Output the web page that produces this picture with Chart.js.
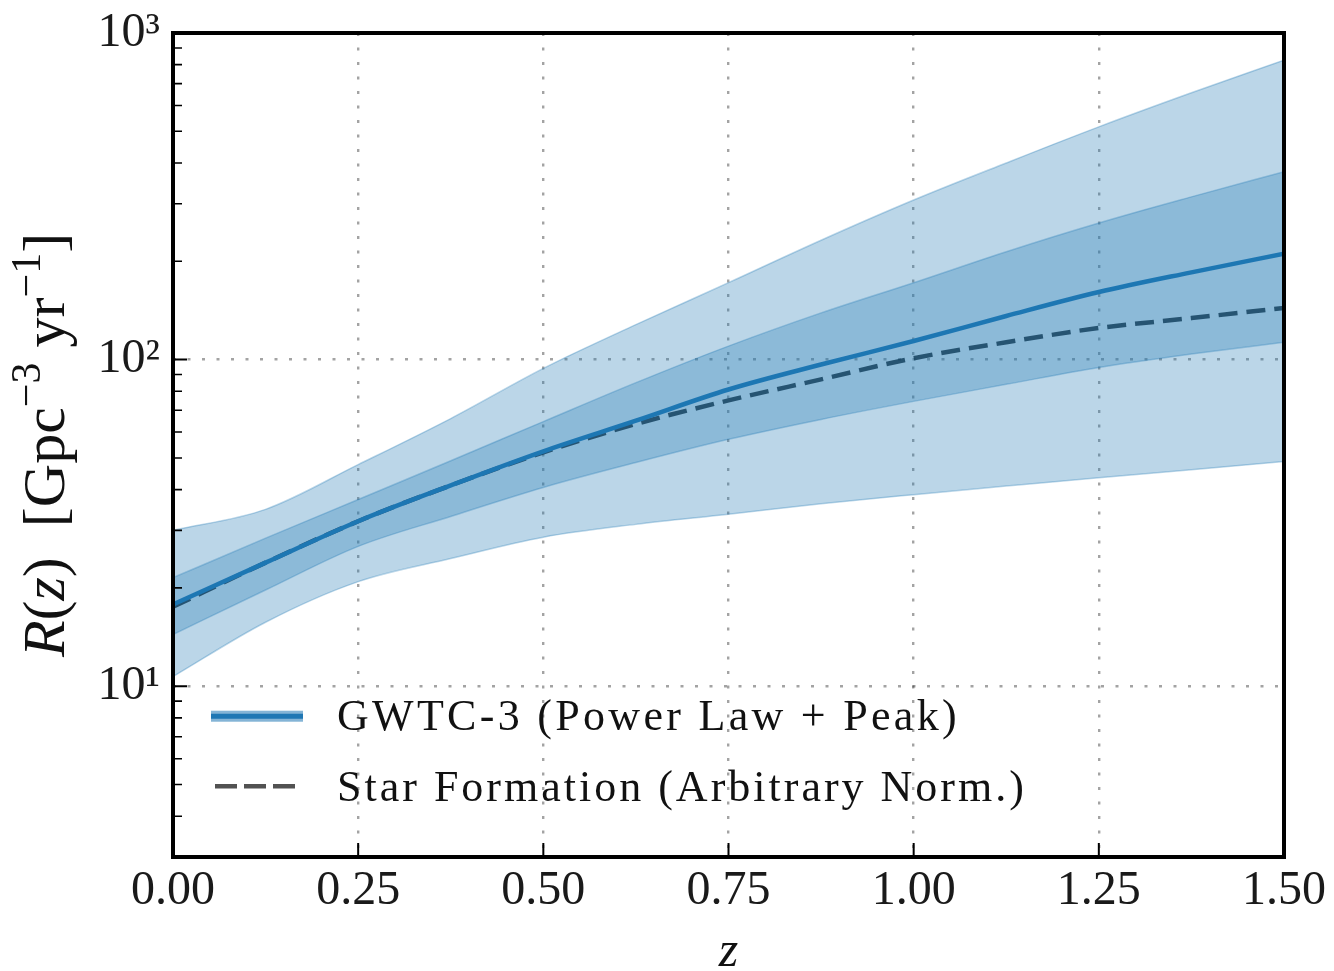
<!DOCTYPE html>
<html><head><meta charset="utf-8">
<script src="https://cdn.jsdelivr.net/npm/chart.js@4.4.1/dist/chart.umd.min.js"></script>
<style>html,body{margin:0;padding:0;background:#fff;}canvas{display:block;}</style>
</head><body>
<canvas id="c" width="1334" height="971"></canvas>
<script>
// ---- data ----
const redshift   = [0, 0.125, 0.25, 0.375, 0.5, 0.625, 0.75, 0.875, 1.0, 1.125, 1.25, 1.375, 1.5];
const outerUpper = [30, 34.8, 47.7, 66, 94, 128, 172, 232, 308, 400, 516, 656, 826];
const innerUpper = [21.5, 28.4, 37.3, 49, 64.6, 85, 110, 139, 172, 214, 262, 315, 376];
const medianRate = [17.8, 23.9, 32, 41.2, 52.4, 65, 81, 96.6, 114, 136, 161, 185, 211];
const innerLower = [14.4, 19.7, 26.8, 33.1, 40.6, 48.4, 57, 65.6, 74.5, 84, 94.6, 104, 113];
const outerLower = [10.7, 15.7, 20.9, 24.6, 28.6, 31.3, 33.6, 36.2, 38.6, 41, 43.5, 46, 48.8];
const starFormation = [17.5, 23.9, 32, 41.2, 52, 63.5, 75, 87, 101, 113, 125, 134, 144];

const xTickValues = [0, 0.25, 0.5, 0.75, 1.0, 1.25, 1.5];
const xTickLabels = ['0.00', '0.25', '0.50', '0.75', '1.00', '1.25', '1.50'];
const yMajorValues = [10, 100, 1000];
const yMajorLabels = ['10\u00B9', '10\u00B2', '10\u00B3'];
const yMin = 3, yMax = 1000;
const legendLabels = ['GWTC-3 (Power Law + Peak)', 'Star Formation (Arbitrary Norm.)'];
const xTitle = 'z';

// ---- helpers ----
const pts = arr => redshift.map((z, i) => ({x: z, y: arr[i]}));
const yAllTicks = [];
for (let d = 0; d <= 3; d++) for (let k = 1; k <= 9; k++) {
  const v = k * Math.pow(10, d);
  if (v >= yMin && v <= yMax) yAllTicks.push(v);
}
const isMajor = v => yMajorValues.some(m => Math.abs(m - v) < 1e-9);
const SERIF = '"Liberation Serif", "DejaVu Serif", serif';
const bandFill = 'rgba(31,119,180,0.3)';
const gridColor = 'rgba(0,0,0,0.36)';

const decorPlugin = {
  id: 'decor',
  afterDatasetsDraw(chart) {
    const {ctx, chartArea: a, scales: {x, y}} = chart;
    ctx.save();
    ctx.strokeStyle = '#000';
    // major ticks (inward)
    ctx.lineWidth = 2;
    ctx.beginPath();
    xTickValues.forEach(v => { const px = x.getPixelForValue(v); ctx.moveTo(px, a.bottom); ctx.lineTo(px, a.bottom - 14); });
    yMajorValues.forEach(v => { const py = y.getPixelForValue(v); ctx.moveTo(a.left, py); ctx.lineTo(a.left + 14, py); });
    ctx.stroke();
    // minor ticks
    ctx.lineWidth = 1.6;
    ctx.beginPath();
    yAllTicks.filter(v => !isMajor(v)).forEach(v => { const py = y.getPixelForValue(v); ctx.moveTo(a.left, py); ctx.lineTo(a.left + 9, py); });
    ctx.stroke();
    // frame
    ctx.lineWidth = 4;
    ctx.strokeRect(a.left, a.top, a.right - a.left, a.bottom - a.top);

    // legend
    const lx0 = a.left + 38, lx1 = a.left + 130;
    const ly1 = y.getPixelForValue(10) + 30, ly2 = ly1 + 70;
    ctx.fillStyle = 'rgba(31,119,180,0.55)';
    ctx.fillRect(lx0, ly1 - 5.5, lx1 - lx0, 11);
    ctx.strokeStyle = '#1f77b4'; ctx.lineWidth = 5;
    ctx.beginPath(); ctx.moveTo(lx0, ly1); ctx.lineTo(lx1, ly1); ctx.stroke();
    ctx.strokeStyle = 'rgba(0,0,0,0.68)'; ctx.lineWidth = 4.5;
    ctx.setLineDash([22, 7]);
    ctx.beginPath(); ctx.moveTo(lx0 + 4, ly2); ctx.lineTo(lx1 - 8, ly2); ctx.stroke();
    ctx.setLineDash([]);
    ctx.fillStyle = '#111';
    ctx.font = '44px ' + SERIF;
    ctx.textBaseline = 'alphabetic'; ctx.textAlign = 'left';
    if ('letterSpacing' in ctx) ctx.letterSpacing = '3.3px';
    ctx.fillText(legendLabels[0], a.left + 164, ly1 + 14);
    if ('letterSpacing' in ctx) ctx.letterSpacing = '3px';
    ctx.fillText(legendLabels[1], a.left + 164, ly2 + 15);
    if ('letterSpacing' in ctx) ctx.letterSpacing = '0px';

    // x title
    ctx.font = 'italic 50px ' + SERIF;
    ctx.textAlign = 'center';
    ctx.fillText(xTitle, (a.left + a.right) / 2, 966);

    // y title: R(z) [Gpc^-3 yr^-1]
    const main = 60, sup = 42;
    const segs = [
      {t: 'R', f: 'italic ' + main + 'px ' + SERIF, dy: 0},
      {t: '(', f: main + 'px ' + SERIF, dy: 0},
      {t: 'z', f: 'italic ' + main + 'px ' + SERIF, dy: 0},
      {t: ')  [Gpc', f: main + 'px ' + SERIF, dy: 0},
      {t: '\u22123', f: sup + 'px ' + SERIF, dy: -24},
      {t: ' yr', f: main + 'px ' + SERIF, dy: 0},
      {t: '\u22121', f: sup + 'px ' + SERIF, dy: -24},
      {t: ']', f: main + 'px ' + SERIF, dy: 0}
    ];
    let total = 0;
    segs.forEach(s => { ctx.font = s.f; s.w = ctx.measureText(s.t).width; total += s.w; });
    ctx.translate(64, 445);
    ctx.rotate(-Math.PI / 2);
    ctx.textAlign = 'left';
    let cx = -total / 2;
    segs.forEach(s => { ctx.font = s.f; ctx.fillText(s.t, cx, s.dy); cx += s.w; });
    ctx.restore();
  }
};

new Chart(document.getElementById('c'), {
  type: 'line',
  data: {
    datasets: [
      {label: 'outer upper', data: pts(outerUpper), fill: '+1', backgroundColor: bandFill, borderColor: bandFill, borderWidth: 1.5},
      {label: 'outer lower', data: pts(outerLower), fill: false, borderColor: bandFill, borderWidth: 1.5},
      {label: 'inner upper', data: pts(innerUpper), fill: '+1', backgroundColor: bandFill, borderColor: bandFill, borderWidth: 1.5},
      {label: 'inner lower', data: pts(innerLower), fill: false, borderColor: bandFill, borderWidth: 1.5},
      {label: legendLabels[0], data: pts(medianRate), fill: false, borderColor: '#1f77b4', borderWidth: 4.5},
      {label: legendLabels[1], data: pts(starFormation), fill: false, borderColor: 'rgba(0,0,0,0.82)', borderWidth: 4.5, borderDash: [19, 9]}
    ]
  },
  options: {
    responsive: false,
    animation: false,
    devicePixelRatio: 1,
    layout: {padding: {top: 33, right: 50, bottom: 0, left: 0}},
    elements: {point: {radius: 0, hoverRadius: 0}, line: {cubicInterpolationMode: 'monotone'}},
    plugins: {legend: {display: false}, tooltip: {enabled: false}},
    scales: {
      x: {
        type: 'linear', min: 0, max: 1.5,
        afterBuildTicks: s => { s.ticks = xTickValues.map(v => ({value: v})); },
        afterFit: s => { s.height = 114; s.paddingLeft = 0; s.paddingRight = 0; },
        ticks: {
          autoSkip: false, maxRotation: 0, padding: 6, color: '#1a1a1a',
          font: {family: SERIF, size: 48},
          callback: (v) => { const i = xTickValues.indexOf(v); return i >= 0 ? xTickLabels[i] : ''; }
        },
        grid: {
          drawTicks: false,
          color: c => (c.tick && c.tick.value > 0 && c.tick.value < 1.5) ? gridColor : 'transparent',
          lineWidth: 2.4
        },
        border: {display: false, dash: [3, 11.5]}
      },
      y: {
        type: 'logarithmic', min: yMin, max: yMax,
        afterBuildTicks: s => { s.ticks = yAllTicks.map(v => ({value: v})); },
        afterFit: s => { s.width = 173; s.paddingTop = 0; s.paddingBottom = 0; },
        ticks: {
          autoSkip: false, padding: 13, color: '#1a1a1a',
          font: {family: SERIF, size: 48},
          callback: (v) => { const i = yMajorValues.findIndex(m => Math.abs(m - v) < 1e-9); return i >= 0 ? yMajorLabels[i] : ''; }
        },
        grid: {
          drawTicks: false,
          color: c => (c.tick && isMajor(c.tick.value)) ? gridColor : 'transparent',
          lineWidth: 2.4
        },
        border: {display: false, dash: [3, 11.5]}
      }
    }
  },
  plugins: [decorPlugin]
});
</script>
</body></html>
